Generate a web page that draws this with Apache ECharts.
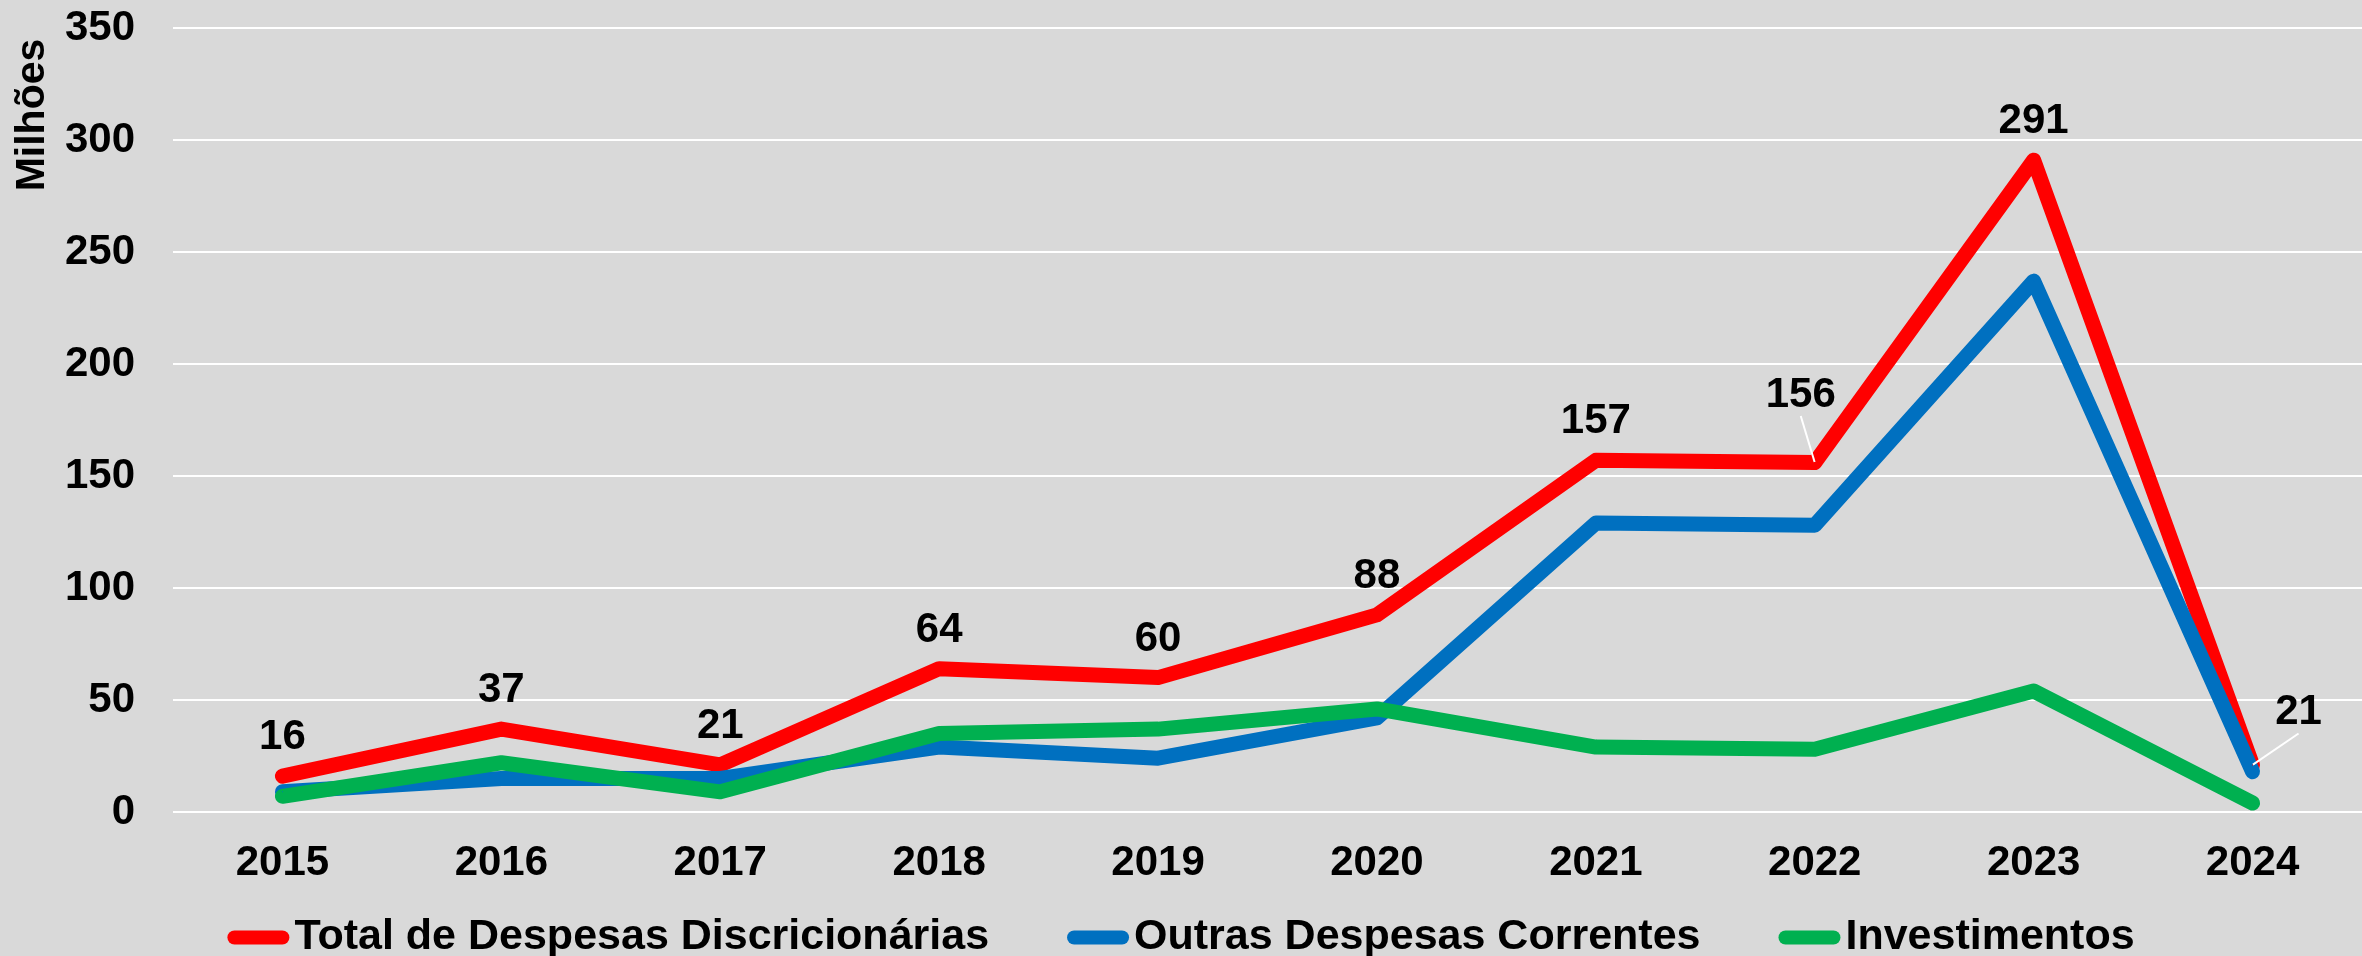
<!DOCTYPE html>
<html lang="pt">
<head>
<meta charset="UTF-8">
<title>Despesas Discricionárias</title>
<style>
  html, body { margin: 0; padding: 0; background: #d9d9d9; }
  #chart { width: 2362px; height: 956px; }
</style>
</head>
<body>
<div id="chart"></div>
<script src="https://cdn.jsdelivr.net/npm/echarts@6/dist/echarts.min.js"></script>
<script>
  // dados (milhões)
  var anos = ['2015', '2016', '2017', '2018', '2019', '2020', '2021', '2022', '2023', '2024'];
  var total = [16, 37, 21, 64, 60, 88, 157, 156, 291, 21];
  var outras = [9, 15, 15, 29, 24, 42, 129, 128, 237, 18];
  var investimentos = [7, 22, 9, 35, 37, 46, 29, 28, 54, 4];
  var nomes = ['Total de Despesas Discricionárias', 'Outras Despesas Correntes', 'Investimentos'];
  var cores = ['#ff0000', '#0070c0', '#00b050'];

  var fonte = '"Liberation Sans", Arial, sans-serif';

  // rótulos deslocados com linha de chamada (2022 e 2024)
  var deslocados = { 7: [-14, -29], 9: [46, -14] };
  var totalData = total.map(function (v, i) {
    if (!deslocados[i]) return v;
    return {
      value: v,
      labelLine: { show: true, lineStyle: { color: '#ffffff', width: 2 } }
    };
  });

  function serie(nome, dados, cor, comRotulo) {
    return {
      name: nome,
      type: 'line',
      data: dados,
      symbol: 'circle',
      symbolSize: 1,
      showSymbol: true,
      itemStyle: { color: cor },
      lineStyle: { color: cor, width: 15, cap: 'round', join: 'round' },
      label: {
        show: comRotulo,
        position: 'top',
        distance: 17,
        color: '#000',
        fontFamily: fonte,
        fontWeight: 'bold',
        fontSize: 42
      },
      emphasis: { disabled: true },
      animation: false
    };
  }

  var chart = echarts.init(document.getElementById('chart'));

  var serieTotal = serie(nomes[0], totalData, cores[0], true);
  serieTotal.labelLayout = function (p) {
    var d = deslocados[p.dataIndex];
    if (!d) return {};
    return { dx: d[0], dy: d[1] };
  };

  var option = {
    backgroundColor: '#d9d9d9',
    textStyle: { fontFamily: fonte },
    grid: { left: 173, right: 0, top: 28, bottom: 144, containLabel: false },
    legend: {
      data: nomes,
      top: 911,
      left: 'center',
      itemWidth: 62,
      itemHeight: 15,
      itemGap: 78,
      icon: 'path://M7,0 L55,0 A7,7 0 0 1 55,14 L7,14 A7,7 0 0 1 7,0 Z',
      itemStyle: { borderWidth: 0 },
      textStyle: { color: '#000', fontFamily: fonte, fontWeight: 'bold', fontSize: 43 }
    },
    xAxis: {
      type: 'category',
      data: anos,
      boundaryGap: true,
      axisLine: { show: false },
      axisTick: { show: false },
      axisLabel: { color: '#000', fontFamily: fonte, fontWeight: 'bold', fontSize: 42, margin: 30 }
    },
    yAxis: {
      type: 'value',
      min: 0,
      max: 350,
      interval: 50,
      axisLine: { show: false },
      axisTick: { show: false },
      splitLine: { lineStyle: { color: '#ffffff', width: 2 } },
      axisLabel: { color: '#000', fontFamily: fonte, fontWeight: 'bold', fontSize: 42, margin: 38 }
    },
    graphic: [{
      type: 'text',
      x: 33,
      y: 115,
      rotation: Math.PI / 2,
      style: {
        text: 'Milhões',
        fill: '#000',
        font: 'bold 41px ' + fonte,
        align: 'center',
        verticalAlign: 'middle'
      }
    }],
    series: [
      serieTotal,
      serie(nomes[1], outras, cores[1], false),
      serie(nomes[2], investimentos, cores[2], false)
    ]
  };

  chart.setOption(option);
</script>
</body>
</html>
